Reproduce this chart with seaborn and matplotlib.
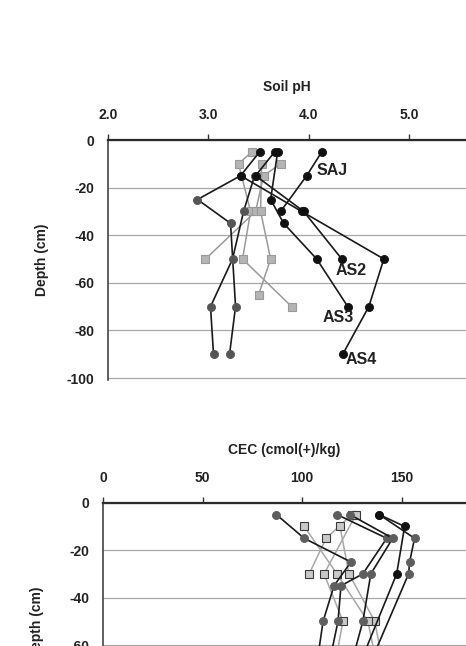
import matplotlib
matplotlib.use("Agg")
import matplotlib.pyplot as plt
import seaborn as sns

# ---------------- Soil pH profiles (value, depth cm) ----------------
ph_SAJ = [4.13, 3.98, 3.72]
ph_SAJ_depth = [-5, -15, -30]
ph_AS2 = [3.66, 3.47, 3.95, 4.33]
ph_AS2_depth = [-5, -15, -30, -50]
ph_AS3 = [3.69, 3.62, 3.75, 4.08, 4.39]
ph_AS3_depth = [-5, -25, -35, -50, -70]
ph_AS4 = [3.51, 3.32, 3.93, 4.75, 4.60, 4.34]
ph_AS4_depth = [-5, -15, -30, -50, -70, -90]
ph_P5 = [3.32, 2.89, 3.22, 3.27, 3.21]
ph_P5_depth = [-15, -25, -35, -70, -90]
ph_P6 = [3.46, 3.35, 3.24, 3.02, 3.05]
ph_P6_depth = [-15, -30, -50, -70, -90]
ph_Q1 = [3.43, 3.30, 3.42, 3.34, 3.83]
ph_Q1_depth = [-5, -10, -30, -50, -70]
ph_Q2 = [3.72, 3.55, 3.47, 2.97]
ph_Q2_depth = [-10, -15, -30, -50]
ph_Q3 = [3.53, 3.52, 3.62, 3.50]
ph_Q3_depth = [-10, -30, -50, -65]

# ---------------- CEC profiles (cmol(+)/kg, depth cm) ----------------
cec_A = [87, 101, 124.5, 116, 110.5, 107]
cec_A_depth = [-5, -15, -25, -35, -50, -70]
cec_B = [117.5, 142.5, 130.5, 119.5, 118, 113]
cec_B_depth = [-5, -15, -30, -35, -50, -70]
cec_C = [124, 145.5, 134.5, 130.5, 124]
cec_C_depth = [-5, -15, -30, -50, -70]
cec_D = [138.7, 151.5, 147.5, 128]
cec_D_depth = [-5, -10, -30, -70]
cec_E = [138.7, 156.5, 154, 153.5, 133]
cec_E_depth = [-5, -15, -25, -30, -70]
cec_Q1 = [125, 112, 103.5]
cec_Q1_depth = [-5, -15, -30]
cec_Q2 = [119, 123.5, 136.5, 141]
cec_Q2_depth = [-10, -30, -50, -70]
cec_Q3 = [101, 117.5, 133, 138]
cec_Q3_depth = [-10, -30, -50, -70]
cec_Q4 = [127, 111, 120.5, 116]
cec_Q4_depth = [-5, -30, -50, -70]

ph_ticks = [2.0, 3.0, 4.0, 5.0]
cec_ticks = [0, 50, 100, 150]
depth_ticks = [0, -20, -40, -60, -80, -100]

profile_labels = ["SAJ", "AS2", "AS3", "AS4"]
label_pos = [(4.08, -13), (4.27, -55), (4.14, -74.6), (4.37, -92.3)]

sns.set_style("white")
plt.rcParams["font.family"] = ["Liberation Sans", "DejaVu Sans"]
plt.rcParams["font.weight"] = "bold"

TXT = "#222222"
W, H = 466, 646
fig = plt.figure(figsize=(W / 100, H / 100), dpi=100)


def ax_rect(left_px, top_px, right_px, bottom_px):
    return [left_px / W, 1 - bottom_px / H, (right_px - left_px) / W, (bottom_px - top_px) / H]


ax1 = fig.add_axes(ax_rect(108.3, 140.0, 466, 380.4))
ax2 = fig.add_axes(ax_rect(103.3, 502.7, 466, 742.3))


def draw(ax, x, d, kind, mcolor, lcolor, ecolor):
    if kind == "circle":
        sns.lineplot(x=x, y=d, sort=False, estimator=None, ax=ax, color=lcolor,
                     lw=1.2, marker="o", markersize=5.8, markerfacecolor=mcolor,
                     markeredgecolor=mcolor, markeredgewidth=0.6, zorder=3)
    else:
        sns.lineplot(x=x, y=d, sort=False, estimator=None, ax=ax, color=lcolor,
                     lw=1.1, marker="s", markersize=5.2, markerfacecolor=mcolor,
                     markeredgecolor=ecolor, markeredgewidth=0.8, zorder=2)


BLK = "#111111"
DG = "#555555"
# --- top panel
for x, d in [(ph_Q1, ph_Q1_depth), (ph_Q2, ph_Q2_depth), (ph_Q3, ph_Q3_depth)]:
    draw(ax1, x, d, "square", "#b4b4b4", "#9a9a9a", "#9a9a9a")
for x, d in [(ph_P5, ph_P5_depth), (ph_P6, ph_P6_depth)]:
    draw(ax1, x, d, "circle", DG, "#1a1a1a", DG)
for x, d in [(ph_SAJ, ph_SAJ_depth), (ph_AS2, ph_AS2_depth),
             (ph_AS3, ph_AS3_depth), (ph_AS4, ph_AS4_depth)]:
    draw(ax1, x, d, "circle", BLK, "#1a1a1a", BLK)
for lab, (lx, ly) in zip(profile_labels, label_pos):
    ax1.text(lx, ly, lab, fontsize=11.5, fontweight="bold", color=TXT,
             ha="left", va="center", zorder=5)

# --- bottom panel
for x, d in [(cec_Q1, cec_Q1_depth), (cec_Q2, cec_Q2_depth),
             (cec_Q3, cec_Q3_depth), (cec_Q4, cec_Q4_depth)]:
    draw(ax2, x, d, "square", "#c8c8c8", "#a8a8a8", "#3a3a3a")
for x, d in [(cec_A, cec_A_depth), (cec_B, cec_B_depth),
             (cec_C, cec_C_depth), (cec_E, cec_E_depth)]:
    draw(ax2, x, d, "circle", "#5e5e5e", "#1a1a1a", "#5e5e5e")
draw(ax2, cec_D, cec_D_depth, "circle", BLK, "#1a1a1a", BLK)


def style(ax, xlim, xticks, xfmt, xlabel):
    ax.set_xlim(*xlim)
    ax.set_ylim(-101, 0)
    ax.set_xticks(xticks)
    ax.set_xticklabels([xfmt(v) for v in xticks])
    ax.set_yticks(depth_ticks)
    ax.set_yticklabels([str(v) for v in depth_ticks])
    ax.xaxis.tick_top()
    ax.xaxis.set_label_position("top")
    ax.set_xlabel(xlabel, fontsize=10, fontweight="bold", color=TXT, labelpad=12)
    ax.set_ylabel("Depth (cm)", fontsize=10, fontweight="bold", color=TXT, labelpad=13)
    ax.tick_params(axis="x", which="both", direction="out", length=4, width=1,
                   pad=9, labelsize=10, colors="#333333", labelcolor=TXT)
    ax.tick_params(axis="y", which="both", direction="out", length=4, width=1,
                   pad=6, labelsize=10, colors="#333333", labelcolor=TXT)
    for lbl in ax.get_xticklabels() + ax.get_yticklabels():
        lbl.set_fontweight("bold")
    ax.grid(axis="y", color="#a8a8a8", lw=0.9)
    ax.grid(axis="x", visible=False)
    for s in ["right", "bottom"]:
        ax.spines[s].set_visible(False)
    ax.spines["top"].set_color("#2a2a2a")
    ax.spines["top"].set_linewidth(1.6)
    ax.spines["left"].set_color("#444444")
    ax.spines["left"].set_linewidth(1.2)
    ax.set_facecolor("white")


style(ax1, (2.0, 2.0 + (466 - 108.3) / 100.2), ph_ticks, lambda v: f"{v:.1f}", "Soil pH")
style(ax2, (0, (466 - 103.3) / 1.989), cec_ticks, lambda v: f"{v:d}", "CEC (cmol(+)/kg)")

fig.savefig("out.png", dpi=100)
